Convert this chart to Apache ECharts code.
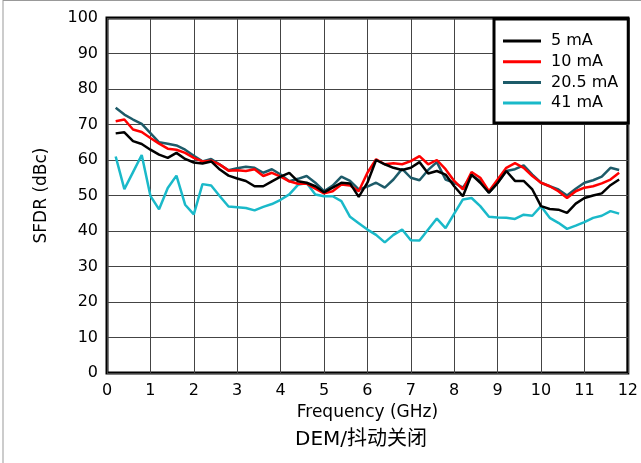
<!DOCTYPE html>
<html><head><meta charset="utf-8">
<script src="https://cdn.jsdelivr.net/npm/echarts@6/dist/echarts.min.js"></script>
<style>html,body{margin:0;padding:0;background:#fff}#c{width:641px;height:463px}</style>
</head><body><div id="c"></div>
<script>
const FREQ = [0.2,0.4,0.6,0.8,1.0,1.2,1.4,1.6,1.8,2.0,2.2,2.4,2.6,2.8,3.0,3.2,3.4,3.6,3.8,4.0,4.2,4.4,4.6,4.8,5.0,5.2,5.4,5.6,5.8,6.0,6.2,6.4,6.6,6.8,7.0,7.2,7.4,7.6,7.8,8.0,8.2,8.4,8.6,8.8,9.0,9.2,9.4,9.6,9.8,10.0,10.2,10.4,10.6,10.8,11.0,11.2,11.4,11.6,11.8];
const SFDR_5MA = [67.5,67.8,65.3,64.5,62.9,61.5,60.6,62.0,60.3,59.3,59.0,59.6,57.3,55.6,54.8,54.1,52.6,52.6,54.0,55.3,56.4,54.0,53.6,52.6,50.9,52.2,53.6,53.4,49.6,53.6,60.0,58.8,57.8,57.2,57.8,59.4,56.2,56.9,55.9,52.6,49.8,55.9,53.6,50.8,53.5,56.9,54.1,54.1,51.7,47.0,46.2,46.0,45.1,47.7,49.3,50.0,50.6,52.9,54.5];
const SFDR_10MA = [70.9,71.4,68.6,67.9,66.2,64.6,63.2,62.9,62.0,60.6,59.6,59.8,58.7,57.0,57.1,56.9,57.4,55.5,56.4,55.3,54.0,53.3,53.3,51.9,50.6,51.2,53.1,52.8,51.2,56.4,60.2,58.8,59.1,58.8,59.7,61.1,58.8,60.0,57.4,54.1,51.7,56.6,55.0,51.2,54.5,57.8,59.1,57.8,55.5,53.6,52.6,51.2,49.3,51.2,52.2,52.6,53.4,54.5,56.4];
const SFDR_20MA = [74.7,72.8,71.4,70.2,67.6,65.0,64.6,64.1,62.9,61.2,59.6,60.3,58.7,57.1,57.7,58.1,57.8,56.4,57.4,55.9,54.0,54.7,55.5,53.6,51.2,52.8,55.3,54.1,51.7,52.5,53.6,52.2,54.5,57.5,55.0,54.3,57.2,59.4,54.5,53.6,52.2,55.7,54.1,50.8,53.6,56.9,57.4,58.5,55.9,53.6,52.6,51.7,50.0,51.9,53.6,54.3,55.3,57.8,57.2];
const SFDR_41MA = [61.0,51.8,56.6,61.4,49.9,46.1,52.1,55.6,47.4,44.7,53.2,52.8,49.8,46.9,46.7,46.5,45.8,46.8,47.6,48.8,50.3,53.0,53.5,50.3,49.8,49.8,48.4,44.0,42.2,40.4,38.9,36.8,38.9,40.4,37.4,37.3,40.4,43.5,40.8,44.9,48.9,49.3,47.0,44.0,43.8,43.7,43.4,44.6,44.3,47.0,43.7,42.3,40.6,41.5,42.5,43.7,44.3,45.6,44.9];
const SERIES_NAMES = ['5 mA','10 mA','20.5 mA','41 mA'];
const COLORS = ['#000000','#ff0000','#1d5b69','#1ab9c9'];
const X_AXIS_NAME = 'Frequency (GHz)';
const Y_AXIS_NAME = 'SFDR (dBc)';
const CAPTION = 'DEM/抖动关闭';

const pair = v => FREQ.map((f,i)=>[f,v[i]]);
const data = [SFDR_5MA,SFDR_10MA,SFDR_20MA,SFDR_41MA];
const font = '"DejaVu Sans", "Liberation Sans", Arial, sans-serif';
const chart = echarts.init(document.getElementById('c'), null, {renderer:'canvas'});
chart.setOption({
  animation:false,
  grid:{left:107,right:13,top:18,bottom:90,show:true,borderColor:'#000',borderWidth:3,backgroundColor:'transparent'},
  xAxis:{type:'value',min:0,max:12,interval:1,
    axisLine:{show:false},axisTick:{show:false},
    axisLabel:{color:'#000',fontSize:16,fontFamily:font,margin:10},
    splitLine:{show:true,lineStyle:{color:'#444',width:1}},
    name:X_AXIS_NAME,nameLocation:'middle',nameGap:31,
    nameTextStyle:{color:'#000',fontSize:17,fontFamily:font}},
  yAxis:{type:'value',min:0,max:100,interval:10,
    axisLine:{show:false},axisTick:{show:false},
    axisLabel:{color:'#000',fontSize:16,fontFamily:font,margin:9},
    splitLine:{show:true,lineStyle:{color:'#444',width:1}},
    name:Y_AXIS_NAME,nameLocation:'middle',nameGap:57,nameRotate:90,
    nameTextStyle:{color:'#000',fontSize:17,fontFamily:font}},
  legend:{orient:'vertical',left:494,top:19,
    backgroundColor:'#fff',borderColor:'#000',borderWidth:3,borderRadius:0,
    padding:[14,10,12,9],itemGap:4.7,itemWidth:38,itemHeight:16,
    textStyle:{color:'#000',fontSize:16,fontFamily:font,padding:[0,0,0,5]},
    data:SERIES_NAMES.map(n=>({name:n,icon:'path://M0,0 L38,0 L38,3 L0,3 Z'}))},
  graphic:[
    {type:'line',shape:{x1:3,y1:0,x2:3,y2:463},style:{stroke:'#999',lineWidth:1}},
    {type:'line',shape:{x1:3,y1:0.5,x2:641,y2:0.5},style:{stroke:'#999',lineWidth:1}},
    {type:'text',x:361,y:440,style:{text:CAPTION,fill:'#000',fontSize:20,align:'center',verticalAlign:'middle',fontFamily:'"DejaVu Sans","Noto Sans CJK SC",sans-serif'}}
  ],
  series:data.map((d,i)=>({name:SERIES_NAMES[i],type:'line',data:pair(d),symbol:'none',
    lineStyle:{color:COLORS[i],width:2.5},itemStyle:{color:COLORS[i]},z:10-i}))
});
</script></body></html>
